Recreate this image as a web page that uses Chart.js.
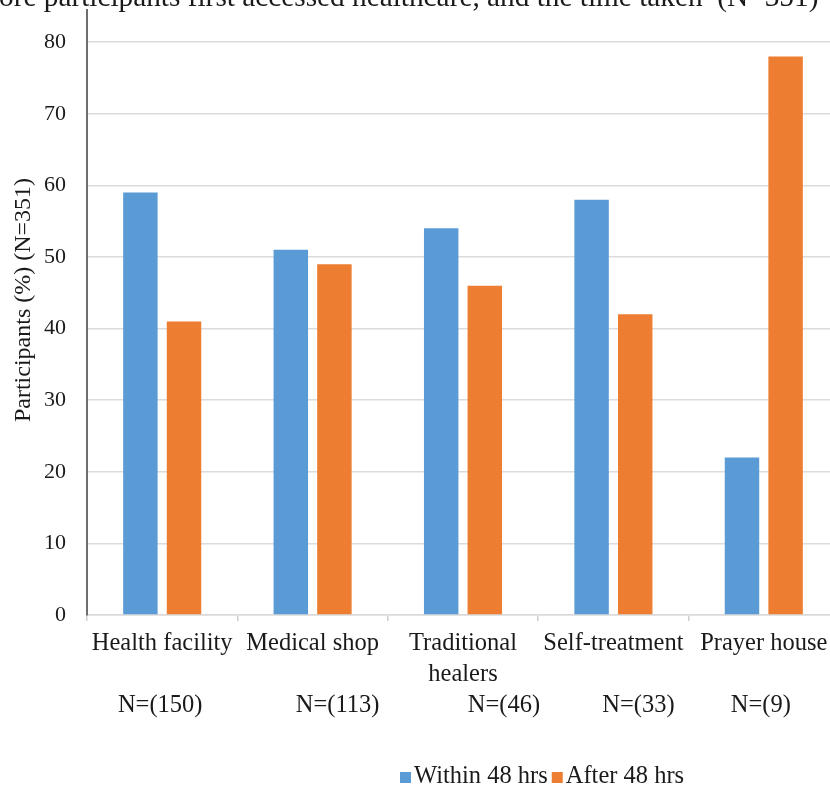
<!DOCTYPE html>
<html>
<head>
<meta charset="utf-8">
<script src="https://cdn.jsdelivr.net/npm/chart.js@4.4.1/dist/chart.umd.min.js"></script>
<style>
  html, body { margin: 0; padding: 0; background: #fff; overflow: hidden; }
  #wrap { position: absolute; left: 0; top: 0; width: 860px; height: 787px; }
</style>
</head>
<body>
<div id="wrap"><canvas id="chart" width="860" height="787"></canvas></div>
<script>
// Where participants first went for care, split by time to first access
const titleText = 'ore participants first accessed healthcare, and the time taken  (N=351)';
const yAxisTitle = 'Participants (%) (N=351)';
const categories = [['Health facility'], ['Medical shop'], ['Traditional', 'healers'], ['Self-treatment'], ['Prayer house']];
const sampleSizes = [150, 113, 46, 33, 9];
const within48 = [59, 51, 54, 58, 22];
const after48 = [41, 49, 46, 42, 78];
const yTickValues = [0, 10, 20, 30, 40, 50, 60, 70, 80];
const seriesNames = ['Within 48 hrs', 'After 48 hrs'];

const FONT = '"Liberation Serif", "Times New Roman", serif';
const TEXT = '#1a1a1a';
const BLUE = '#5B9BD5';
const ORANGE = '#ED7D31';

// Horizontal nudges for the sample-size captions under each category
const nShift = [-2, 25, 41, 25, -3];

const extras = {
  id: 'extras',
  afterDraw(chart) {
    const ctx = chart.ctx;
    const x = chart.scales.x;
    ctx.save();
    ctx.fillStyle = TEXT;
    ctx.textBaseline = 'alphabetic';

    // title line (runs off the top edge)
    ctx.font = '29.3px ' + FONT;
    ctx.textAlign = 'left';
    ctx.fillText(titleText, -1, 6);

    // vertical axis title
    ctx.save();
    ctx.font = '24px ' + FONT;
    ctx.textAlign = 'center';
    ctx.translate(30, 300);
    ctx.rotate(-Math.PI / 2);
    ctx.fillText(yAxisTitle, 0, 0);
    ctx.restore();

    ctx.font = '24.5px ' + FONT;

    // sample sizes
    ctx.textAlign = 'center';
    sampleSizes.forEach((n, i) => {
      ctx.fillText('N=(' + n + ')', x.getPixelForValue(i) + nShift[i], 712);
    });

    // legend
    ctx.textAlign = 'left';
    let lx = 400;
    const ly = 783;
    chart.data.datasets.forEach(ds => {
      ctx.fillStyle = ds.backgroundColor;
      ctx.fillRect(lx, ly - 11, 11, 11);
      lx += 14;
      ctx.fillStyle = TEXT;
      ctx.fillText(ds.label, lx, ly);
      lx += ctx.measureText(ds.label).width + 4;
    });
    ctx.restore();
  }
};

new Chart(document.getElementById('chart'), {
  type: 'bar',
  data: {
    labels: categories,
    datasets: [
      { label: seriesNames[0], data: within48, backgroundColor: BLUE, categoryPercentage: 0.58, barPercentage: 0.79 },
      { label: seriesNames[1], data: after48, backgroundColor: ORANGE, categoryPercentage: 0.58, barPercentage: 0.79 }
    ]
  },
  options: {
    responsive: false,
    animation: false,
    layout: { padding: { top: 10, left: 0, right: 21, bottom: 0 } },
    plugins: {
      legend: { display: false },
      tooltip: { enabled: false },
      title: { display: false }
    },
    scales: {
      x: {
        grid: { display: true, offset: true, drawOnChartArea: false, drawTicks: true, tickLength: 6, color: '#d0d0d0', lineWidth: 1.5 },
        border: { display: true, color: '#d9d9d9', width: 1.5 },
        ticks: {
          color: TEXT, font: { family: FONT, size: 24.5, lineHeight: 1.27 },
          padding: 7, autoSkip: false, maxRotation: 0, minRotation: 0
        },
        afterFit(s) { s.height = 172; s.paddingLeft = 0; s.paddingRight = 0; }
      },
      y: {
        min: 0,
        max: 84.5,
        afterBuildTicks(s) { s.ticks = yTickValues.map(v => ({ value: v })); },
        grid: { color: '#dcdcdc', lineWidth: 1.5, drawTicks: false },
        border: { display: true, color: '#6e6e6e', width: 2 },
        ticks: { color: TEXT, font: { family: FONT, size: 22 }, padding: 21 },
        title: { display: false },
        afterFit(s) { s.width = 87; s.paddingTop = 0; s.paddingBottom = 0; }
      }
    }
  },
  plugins: [extras]
});
</script>
</body>
</html>
